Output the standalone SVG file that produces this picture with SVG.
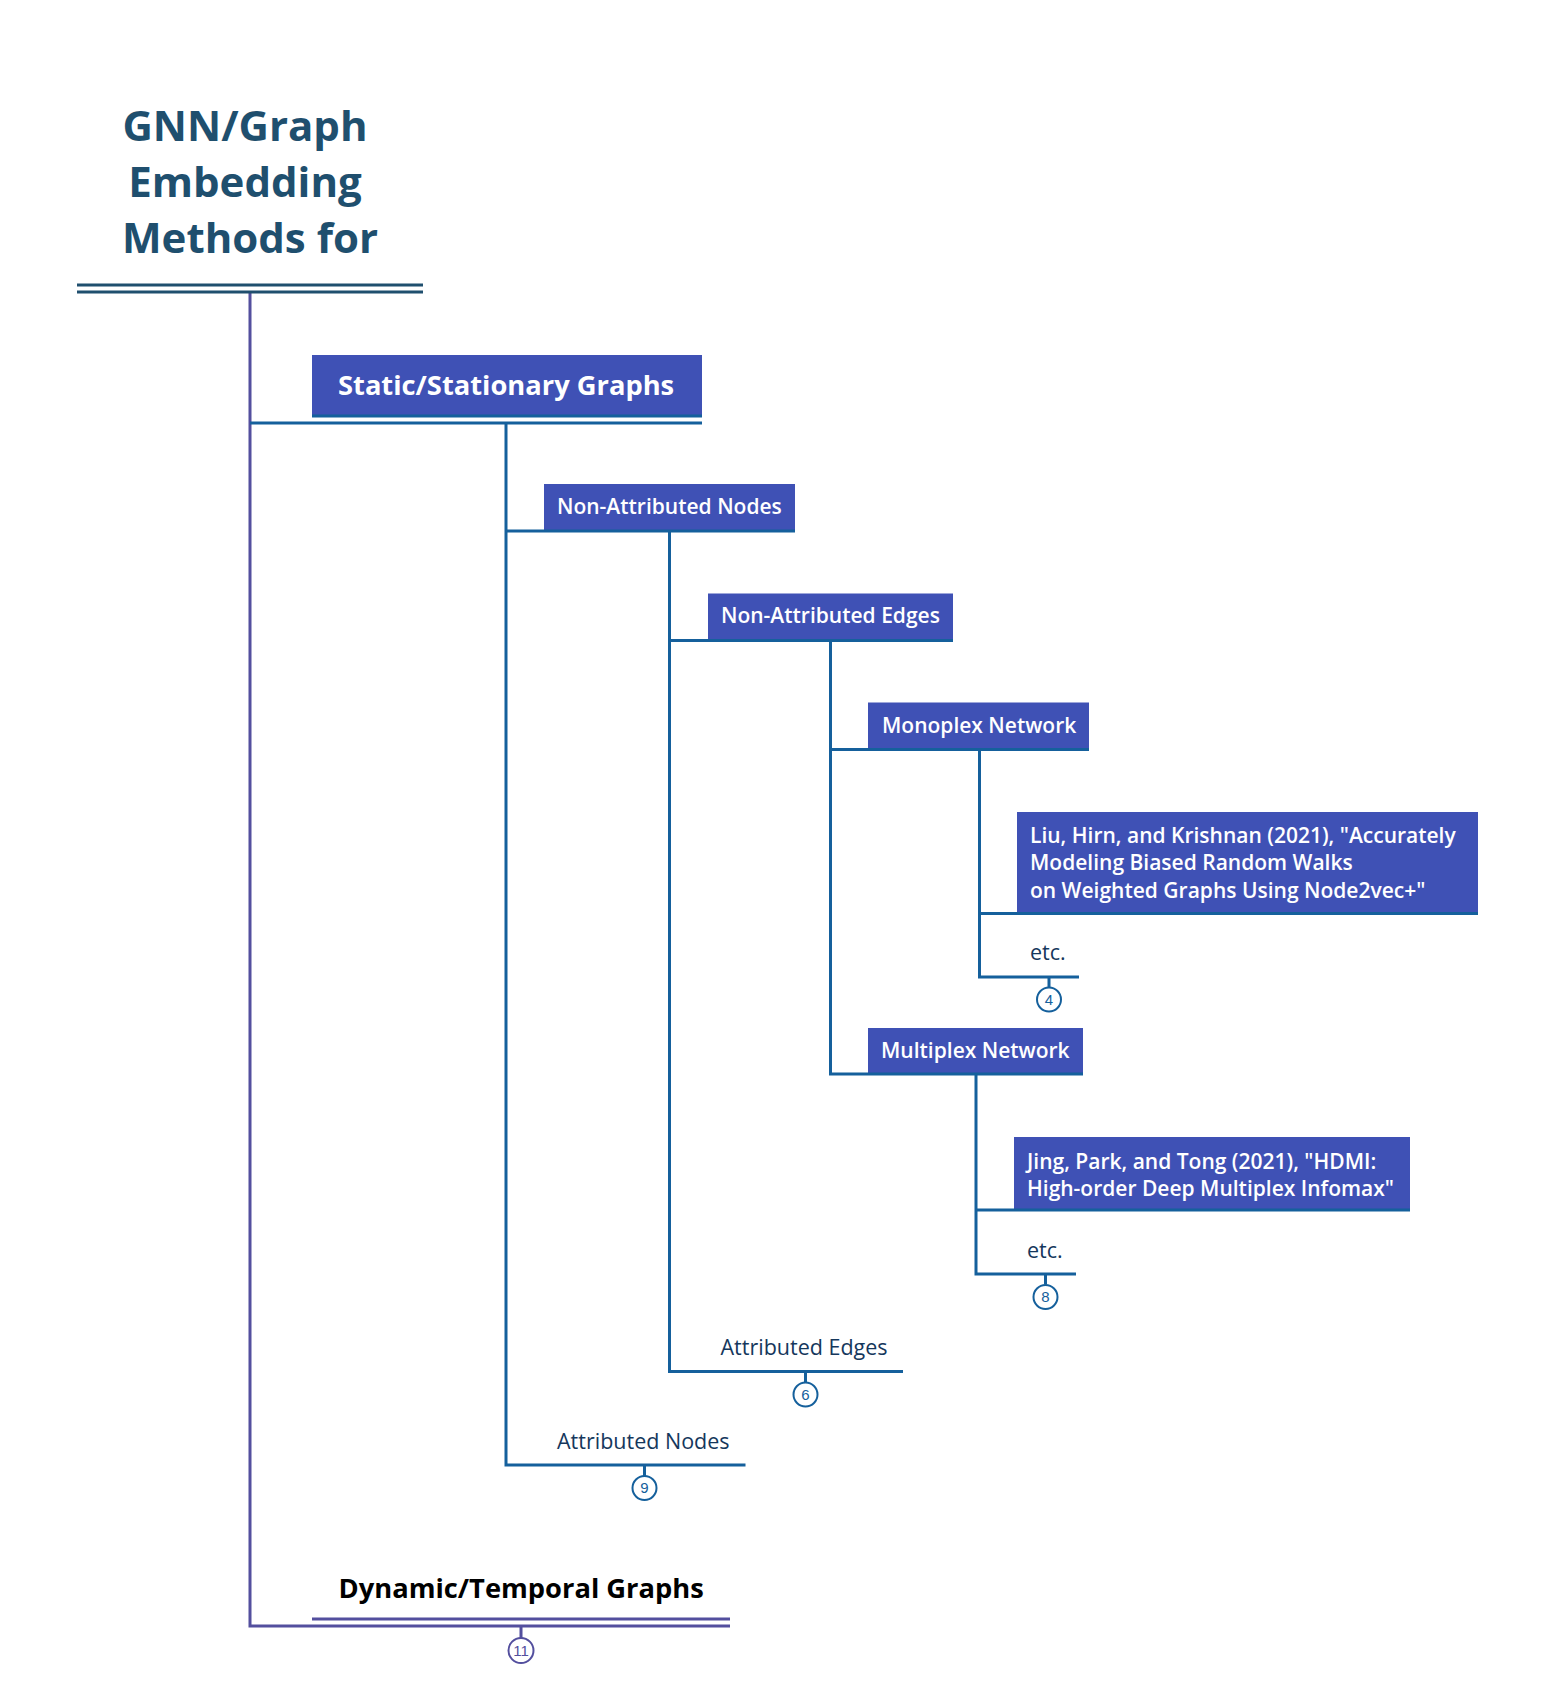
<svg xmlns="http://www.w3.org/2000/svg" width="1555" height="1701" viewBox="0 0 1555 1701">
<style>
.title{font-family:"Open Sans","Noto Sans","Liberation Sans",sans-serif;font-weight:700;font-size:42px;fill:#1f4f6e;text-anchor:middle}
.big{font-family:"Open Sans","Noto Sans","Liberation Sans",sans-serif;font-weight:700;font-size:27.3px}
.lbl{font-family:"Open Sans","Noto Sans","Liberation Sans",sans-serif;font-weight:600;font-size:21px;fill:#ffffff}
.leaf{font-family:"Open Sans","Noto Sans","Liberation Sans",sans-serif;font-weight:500;font-size:21.5px;fill:#15375c}
.box{fill:#3f51b5}
.edge{stroke:#15609c;stroke-width:3;fill:none}
.edgep{stroke:#534f9e;stroke-width:3;fill:none}
.uline{stroke:#15609c;stroke-width:3;fill:none}
.dline{stroke:#1f4f6e;stroke-width:3;fill:none}
.circ{fill:#ffffff;stroke:#15609c;stroke-width:2}
.circp{fill:#ffffff;stroke:#534f9e;stroke-width:2}
.num{font-family:"Liberation Sans",Arial,sans-serif;font-size:15px;fill:#15609c;text-anchor:middle}
.nump{font-family:"Liberation Sans",Arial,sans-serif;font-size:15px;fill:#534f9e;text-anchor:middle}
</style>

<g id="connectors">
  <path class="edgep" d="M250 292 V1626 H312"/>
  <path class="edge" d="M250 423 H312"/>
  <path class="edge" d="M506 423 V1465 H544"/>
  <path class="edge" d="M506 531 H544"/>
  <path class="edge" d="M669.5 531 V1371.5 H708"/>
  <path class="edge" d="M669.5 640.5 H708"/>
  <path class="edge" d="M830.5 640.5 V1074 H868"/>
  <path class="edge" d="M830.5 749.5 H868"/>
  <path class="edge" d="M979.5 749.5 V977 H1017"/>
  <path class="edge" d="M979.5 913.5 H1017"/>
  <path class="edge" d="M976 1074 V1274 H1014"/>
  <path class="edge" d="M976 1210 H1014"/>
</g>

<g id="title">
  <text class="title" x="245" y="141">GNN/Graph</text>
  <text class="title" x="245" y="197">Embedding</text>
  <text class="title" x="250" y="253">Methods for</text>
  <path class="dline" d="M77 285 H423 M77 292 H423"/>
</g>

<g id="static">
  <rect class="box" x="312" y="355" width="390" height="61"/>
  <path class="uline" d="M312 416 H702 M312 423 H702"/>
  <text class="big" x="338" y="395" fill="#ffffff">Static/Stationary Graphs</text>
</g>

<g id="non-attributed-nodes">
  <rect class="box" x="544" y="484" width="251" height="47"/>
  <path class="uline" d="M544 531 H795"/>
  <text class="lbl" x="557" y="514">Non-Attributed Nodes</text>
</g>

<g id="non-attributed-edges">
  <rect class="box" x="708" y="593.5" width="245" height="47"/>
  <path class="uline" d="M708 640.5 H953"/>
  <text class="lbl" x="721" y="623">Non-Attributed Edges</text>
</g>

<g id="monoplex">
  <rect class="box" x="868" y="702.5" width="221" height="47"/>
  <path class="uline" d="M868 749.5 H1089"/>
  <text class="lbl" x="882" y="733">Monoplex Network</text>
</g>

<g id="liu">
  <rect class="box" x="1017" y="812" width="461" height="101.5"/>
  <path class="uline" d="M1017 913.5 H1478"/>
  <text class="lbl" x="1030" y="842.5">Liu, Hirn, and Krishnan (2021), "Accurately</text>
  <text class="lbl" x="1030" y="870">Modeling Biased Random Walks</text>
  <text class="lbl" x="1030" y="897.5">on Weighted Graphs Using Node2vec+"</text>
</g>

<g id="etc-monoplex">
  <text class="leaf" x="1030" y="960">etc.</text>
  <path class="uline" d="M1017 977 H1079 M1049 977 V987"/>
  <circle class="circ" cx="1049" cy="999.5" r="12"/>
  <text class="num" x="1049" y="1004.8">4</text>
</g>

<g id="multiplex">
  <rect class="box" x="868" y="1028" width="215" height="46"/>
  <path class="uline" d="M868 1074 H1083"/>
  <text class="lbl" x="881" y="1058">Multiplex Network</text>
</g>

<g id="jing">
  <rect class="box" x="1014" y="1137" width="396" height="73"/>
  <path class="uline" d="M1014 1210 H1410"/>
  <text class="lbl" x="1027" y="1168.5">Jing, Park, and Tong (2021), "HDMI:</text>
  <text class="lbl" x="1027" y="1196">High-order Deep Multiplex Infomax"</text>
</g>

<g id="etc-multiplex">
  <text class="leaf" x="1027" y="1257.5">etc.</text>
  <path class="uline" d="M1014 1274 H1076 M1045.5 1274 V1284.5"/>
  <circle class="circ" cx="1045.5" cy="1297" r="12"/>
  <text class="num" x="1045.5" y="1302.3">8</text>
</g>

<g id="attributed-edges">
  <text class="leaf" x="720.5" y="1355">Attributed Edges</text>
  <path class="uline" d="M708 1371.5 H903 M805.5 1371.5 V1382"/>
  <circle class="circ" cx="805.5" cy="1394.5" r="12"/>
  <text class="num" x="805.5" y="1399.8">6</text>
</g>

<g id="attributed-nodes">
  <text class="leaf" x="557" y="1448.5">Attributed Nodes</text>
  <path class="uline" d="M544 1465 H745.5 M644.5 1465 V1476"/>
  <circle class="circ" cx="644.5" cy="1488" r="12"/>
  <text class="num" x="644.5" y="1493.3">9</text>
</g>

<g id="dynamic">
  <text class="big" x="338.5" y="1598" fill="#000000">Dynamic/Temporal Graphs</text>
  <path class="edgep" d="M312 1619 H730 M312 1626 H730 M521 1626 V1638"/>
  <circle class="circp" cx="521" cy="1650.5" r="12.5"/>
  <text class="nump" x="521" y="1655.8">11</text>
</g>
</svg>
